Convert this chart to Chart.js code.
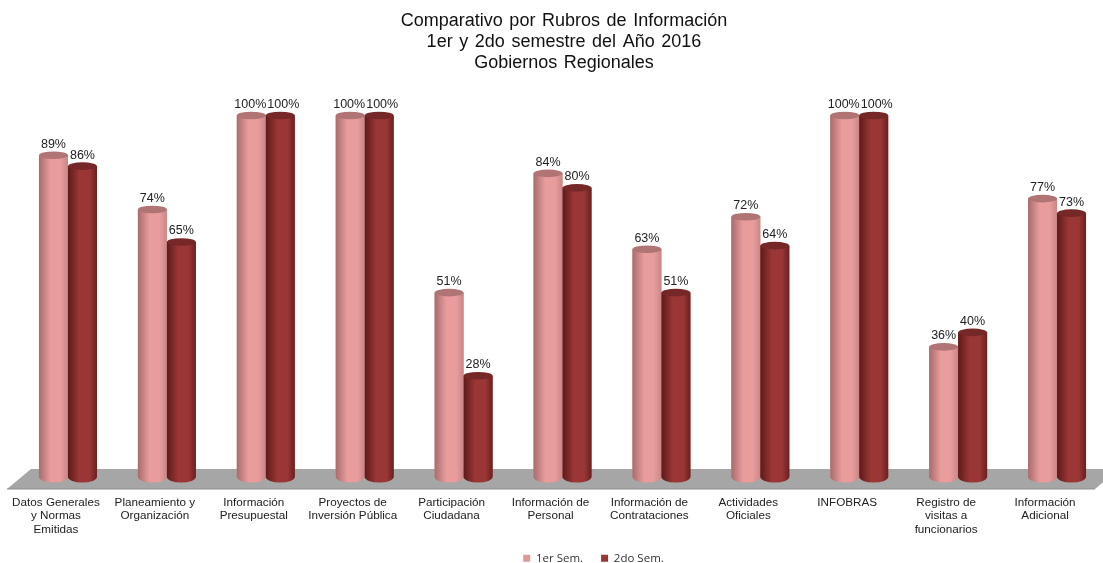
<!DOCTYPE html>
<html>
<head>
<meta charset="utf-8">
<script src="https://cdn.jsdelivr.net/npm/chart.js@4"></script>
<style>
  html, body { margin: 0; background: #fff; overflow: hidden; }
  canvas { display: block; }
</style>
</head>
<body>
<canvas id="barChart" width="1110" height="563"></canvas>
<script>
const titulo = ['Comparativo por Rubros de Información', '1er y 2do semestre del Año 2016', 'Gobiernos Regionales'];
const rubros = [
  ['Datos Generales', 'y Normas', 'Emitidas'],
  ['Planeamiento y', 'Organización'],
  ['Información', 'Presupuestal'],
  ['Proyectos de', 'Inversión Pública'],
  ['Participación', 'Ciudadana'],
  ['Información de', 'Personal'],
  ['Información de', 'Contrataciones'],
  ['Actividades', 'Oficiales'],
  'INFOBRAS',
  ['Registro de', 'visitas a', 'funcionarios'],
  ['Información', 'Adicional']
];
const sem1 = [89, 74, 100, 100, 51, 84, 63, 72, 100, 36, 77];
const sem2 = [86, 65, 100, 100, 28, 80, 51, 64, 100, 40, 73];

// Colores del cilindro por serie: borde, centro, tapa
const tonos = [
  { borde: '#a86c6c', brillo: '#e89c9c', fin: '#c98686', tapa: '#b07474' },
  { borde: '#5f1a1a', brillo: '#9b3636', fin: '#6a2020', tapa: '#762727' }
];

// El titulo original tiene mas espacio entre palabras
const espacioTitulo = {
  id: 'espacioTitulo',
  afterInit(chart) {
    const dibujar = chart.titleBlock.draw;
    chart.titleBlock.draw = function () {
      chart.ctx.wordSpacing = '1.6px';
      dibujar.call(this);
      chart.ctx.wordSpacing = '0px';
    };
  }
};

// Piso gris debajo de las barras
const piso = {
  id: 'piso',
  beforeDatasetsDraw(chart) {
    const c = chart.ctx;
    const base = chart.scales.y.getPixelForValue(0);
    c.save();
    c.beginPath();
    c.moveTo(7, base + 12);
    c.lineTo(31, base - 8);
    c.lineTo(1119, base - 8);
    c.lineTo(1095, base + 12);
    c.closePath();
    c.fillStyle = '#a6a6a6';
    c.fill();
    c.strokeStyle = '#8f8f8f';
    c.lineWidth = 1;
    c.beginPath();
    c.moveTo(7, base + 12);
    c.lineTo(1095, base + 12);
    c.stroke();
    c.restore();
  }
};

// Repinta cada barra como cilindro, la serie oscura queda encima
const cilindros = {
  id: 'cilindros',
  afterDatasetsDraw(chart) {
    const c = chart.ctx;
    chart.data.datasets.forEach((ds, i) => {
      const tono = tonos[i];
      chart.getDatasetMeta(i).data.forEach(bar => {
        const izq = bar.x - bar.width / 2;
        const der = bar.x + bar.width / 2;
        const rx = bar.width / 2;
        const grad = c.createLinearGradient(izq, 0, der, 0);
        grad.addColorStop(0, tono.borde);
        grad.addColorStop(0.4, tono.brillo);
        grad.addColorStop(0.75, tono.brillo);
        grad.addColorStop(1, tono.fin);
        c.save();
        c.beginPath();
        c.moveTo(izq, bar.y);
        c.lineTo(der, bar.y);
        c.lineTo(der, bar.base);
        c.ellipse(bar.x, bar.base, rx, 5.5, 0, 0, Math.PI);
        c.closePath();
        c.fillStyle = grad;
        c.fill();
        c.beginPath();
        c.ellipse(bar.x, bar.y, rx, 3.8, 0, 0, Math.PI * 2);
        c.fillStyle = tono.tapa;
        c.fill();
        c.restore();
      });
    });
  }
};

// Etiquetas de porcentaje sobre cada barra
const etiquetas = {
  id: 'etiquetas',
  afterDatasetsDraw(chart) {
    const c = chart.ctx;
    c.save();
    c.font = '12.5px "Liberation Sans"';
    c.fillStyle = '#222';
    c.textAlign = 'center';
    c.textBaseline = 'middle';
    chart.data.datasets.forEach((ds, i) => {
      chart.getDatasetMeta(i).data.forEach((bar, j) => {
        let corrimiento = 0;
        if (ds.data[j] === 100) corrimiento = i === 0 ? -1 : 3;
        c.fillText(ds.data[j] + '%', bar.x + corrimiento, bar.y - 11);
      });
    });
    c.restore();
  }
};

// Leyenda y titulo van corridos en el original
const moverCajas = {
  id: 'moverCajas',
  afterLayout(chart) {
    chart.legend.left += 31;
    chart.legend.right += 31;
    chart.legend.top -= 17.5;
    chart.titleBlock.left += 1.5;
    chart.titleBlock.right += 1.5;
  }
};

const ctx = document.getElementById('barChart').getContext('2d');
new Chart(ctx, {
  type: 'bar',
  data: {
    labels: rubros,
    datasets: [
      { label: '1er Sem.', data: sem1, backgroundColor: '#dd9a98' },
      { label: '2do Sem.', data: sem2, backgroundColor: '#953735' }
    ]
  },
  options: {
    responsive: false,
    animation: false,
    layout: { padding: { left: 18.5, right: 3.5, top: 11, bottom: 0 } },
    categoryPercentage: 0.586,
    barPercentage: 1,
    plugins: {
      tooltip: { enabled: false },
      title: {
        display: true,
        text: titulo,
        color: '#111',
        font: { family: '"Liberation Sans"', size: 18, weight: 'normal', lineHeight: 1.167 },
        padding: { top: 0, bottom: 41.5 }
      },
      legend: {
        position: 'bottom',
        maxHeight: 11,
        labels: {
          boxWidth: 7,
          boxHeight: 7,
          color: '#333',
          font: { family: '"Open Sans"', size: 11.5 },
          padding: 18
        }
      }
    },
    scales: {
      x: {
        grid: { display: false },
        border: { display: false },
        afterFit(scale) { scale.height = 75; },
        ticks: {
          maxRotation: 0,
          autoSkip: false,
          color: '#222',
          padding: 11,
          labelOffset: -12,
          font: { family: '"Liberation Sans"', size: 11.7, lineHeight: 1.15 }
        }
      },
      y: { display: false, min: 0, max: 100 }
    }
  },
  plugins: [espacioTitulo, piso, cilindros, etiquetas, moverCajas]
});
</script>
</body>
</html>
